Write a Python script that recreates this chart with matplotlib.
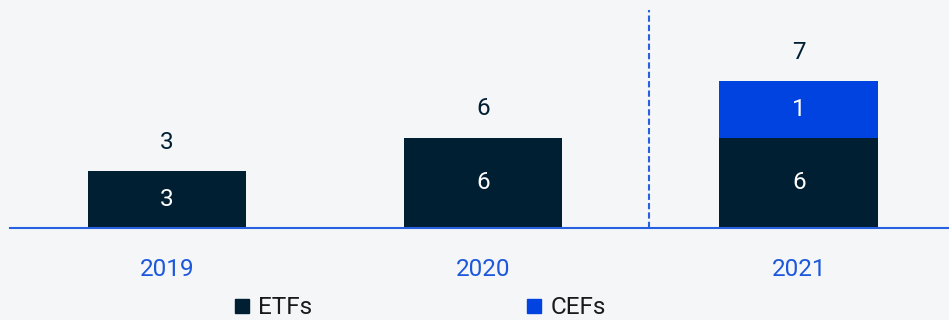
import matplotlib
matplotlib.use("Agg")
import matplotlib.pyplot as plt
from matplotlib.lines import Line2D

years = ["2019", "2020", "2021"]
etfs = [3, 6, 6]
cefs = [0, 0, 1]
totals = [e + c for e, c in zip(etfs, cefs)]

DARK = "#001f33"
BLUE = "#0043e0"
AXBLUE = "#2760e0"
TXTBLUE = "#1c57dc"
BG = "#f4f6f8"
MIN_H = 3.75  # minimum displayed segment height (display rule)

def disp(v):
    return 0 if v == 0 else max(v, MIN_H)

plt.rcParams['font.family'] = ['Roboto', 'DejaVu Sans']
FS = 17.5

fig = plt.figure(figsize=(9.49, 3.2), dpi=100, facecolor=BG)
ax = fig.add_axes([10/949, (320-227.7)/320, 939/949, 217.7/320])
ax.set_facecolor(BG)

x = list(range(len(years)))
w = 0.503
h_e = [disp(v) for v in etfs]
h_c = [disp(v) for v in cefs]
ax.bar(x, h_e, width=w, color=DARK, zorder=2)
ax.bar(x, h_c, width=w, bottom=h_e, color=BLUE, zorder=2)

for i in x:
    if etfs[i]:
        ax.text(i, h_e[i]/2, str(etfs[i]), ha='center', va='center', color='white', fontsize=FS, zorder=3)
    if cefs[i]:
        ax.text(i, h_e[i] + h_c[i]/2, str(cefs[i]), ha='center', va='center', color='white', fontsize=FS, zorder=3)
    ax.annotate(str(totals[i]), (i, h_e[i] + h_c[i]), xytext=(0, 21), textcoords='offset points',
                ha='center', va='center', color=DARK, fontsize=FS)

ax.set_xlim(-0.497, 2.475)
ax.set_ylim(0, 14.51)
ax.axvline(1.525, color=AXBLUE, linestyle=(0, (3, 1.5)), linewidth=1.5, zorder=1)

for s in ['top', 'right', 'left']:
    ax.spines[s].set_visible(False)
ax.spines['bottom'].set_color(AXBLUE)
ax.spines['bottom'].set_linewidth(1.5)
ax.spines['bottom'].set_zorder(4)
ax.set_yticks([])
ax.set_xticks(x)
ax.set_xticklabels(years, color=TXTBLUE, fontsize=FS)
ax.tick_params(axis='x', length=0, pad=21.5)

handles = [Line2D([], [], marker='s', linestyle='none', markersize=10, color=DARK),
           Line2D([], [], marker='s', linestyle='none', markersize=10, color=BLUE)]
leg = fig.legend(handles, ["ETFs", "CEFs"], loc='center', bbox_to_anchor=(420.5/949, 1-308/320),
                 ncol=2, frameon=False, fontsize=FS, handlelength=0.55, handletextpad=0.4,
                 columnspacing=8.85, borderpad=0, borderaxespad=0)
for t in leg.get_texts():
    t.set_color("#1a1a1a")

fig.savefig("out.png", dpi=100, facecolor=BG)
